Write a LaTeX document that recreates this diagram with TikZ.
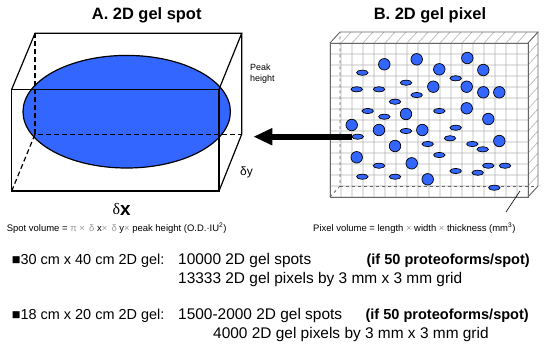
\documentclass[tikz,border=0pt]{standalone}
\usepackage{fontspec}
\setmainfont{Liberation Sans}
\newfontfamily\greekserif{Liberation Serif}
\usetikzlibrary{arrows.meta,positioning,shapes.geometric}
\definecolor{spotblue}{RGB}{51,102,255}

\begin{document}
\begin{tikzpicture}[x=1bp, y=-1bp,
      >=Latex,
      edge/.style={line width=1.2bp, draw=black},
      hidden/.style={edge, dash pattern=on 5bp off 3bp},
      gridline/.style={line width=0.6bp, draw=black!30},
      frame/.style={line width=0.8bp, draw=black!60},
      roundspot/.style={circle, draw=black, line width=0.7bp, fill=spotblue,
        minimum size=11.5bp, inner sep=0pt},
      flatspot/.style={ellipse, draw=black, line width=0.7bp, fill=spotblue,
        minimum width=11.5bp, minimum height=5.2bp, inner sep=0pt},
      heading/.style={font=\fontsize{16.5}{18}\selectfont\bfseries},
      caption/.style={font=\fontsize{9.5}{11}\selectfont, anchor=base west, inner sep=0pt},
      sizeline/.style={font=\fontsize{15.5}{17}\selectfont, anchor=base west, inner sep=0pt},
      gelline/.style={sizeline, font=\fontsize{14.5}{17}\selectfont},
      perspot/.style={font=\fontsize{14.6}{17}\selectfont\bfseries, anchor=base east, inner sep=0pt}
    ]
    \useasboundingbox (0,0) rectangle (550,345);

    % Spot box
    \node[heading] (titlea) at (146.7,15) {A. 2D gel spot};
    \filldraw[fill=spotblue, draw=black, line width=1.2bp]
      (126.7,111.7) ellipse [x radius=103.7, y radius=56.3];
    \draw[edge] (11.7,89.3) rectangle (219,191);
    \draw[edge] (11.7,89.3) -- (35,33.3) -- (241.7,33.3) -- (219,89.3);
    \draw[edge] (241.7,33.3) -- (241.7,134.3) -- (219,191);
    \draw[hidden] (35,33.3) -- (35,134.3) -- (241.7,134.3);
    \draw[hidden] (11.7,191) -- (35,134.3);
    \node[font=\fontsize{9}{10.5}\selectfont, align=left, anchor=north west,
      inner sep=0pt] (peak) at (250,64) {Peak\\height};
    \node[font=\fontsize{12}{14}\selectfont, anchor=base west, inner sep=0pt]
      (dy) at (240,175) {δy};
    \node[anchor=base, inner sep=0pt] (dx) at (121.7,214)
      {\fontsize{16}{18}\selectfont\greekserif δ\raisebox{-1.5bp}{\fontsize{19}{20}\selectfont\rmfamily\bfseries x}};
    \node[caption] (spotvol) at (6.7,231)
      {Spot volume = {\color{black!40}π ×\, δ }x{\color{black!40}×\, δ }y{\color{black!40}×}
       peak height (O.D.·IU\textsuperscript{2})};

    % Pixel grid
    \node[heading] (titleb) at (430,15) {B. 2D gel pixel};
    \foreach \i in {0,...,18}
      \draw[gridline] (330+11*\i,197) -- (330+11*\i,43) -- (340+11*\i,32);
    \foreach \j in {0,...,14}
      \draw[gridline] (330,43+11*\j) -- (528,43+11*\j) -- (538,32+11*\j);
    \draw[frame, dashed] (330,197) -- (340,186) -- (340,32);
    \draw[frame, dashed] (340,186) -- (538,186);
    \draw[frame] (330,43) rectangle (528,197);
    \draw[frame] (330,43) -- (340,32) -- (538,32) -- (528,43);
    \draw[frame] (538,32) -- (538,186) -- (528,197);

    \foreach \px/\py [count=\k] in {384.3/64.3, 416.7/59.3, 467.3/58, 439.3/69.3,
        483.3/70, 433.3/86.7, 466.7/86.7, 483.3/92.3, 499.3/92.3, 406/114,
        466.7/108.3, 488.3/119, 351.7/125, 379/130, 422.3/130, 395/146,
        499.3/141, 356.7/157.3, 411.7/163.3, 427.7/179.3}
      \node[roundspot] (c\k) at (\px,\py) {};
    \foreach \px/\py [count=\k] in {362.3/72.7, 356.7/89.3, 379/89.3, 406/82.7,
        416.7/95, 455.7/78.3, 395/101.7, 367.7/111, 384.3/116.7, 439.3/111,
        455.7/127.7, 406/131, 357.7/136.7, 450/138.3, 427.7/144, 472.3/144,
        482.7/149.3, 439.3/155, 379/165.7, 488.3/165.7, 505/165.7, 455.7/171,
        477.7/172.7, 362.3/176.7, 395/176.7, 494.3/187.7}
      \node[flatspot] (e\k) at (\px,\py) {};

    \coordinate (depth) at (520,191);
    \coordinate (thk) at (506,212);
    \draw[line width=0.6bp] (depth) -- (thk);
    \node[caption] (pixvol) at (313,231)
      {Pixel volume = length {\color{black!40}×} width {\color{black!40}×}
       thickness (mm\textsuperscript{3})};

    % Spot to pixel
    \coordinate (tip) at (253.3,136.7);
    \draw[line width=6bp, -{Triangle[length=19bp, width=16bp]}] (e13.west) -- (tip);

    % Gel sizes
    \node[gelline] (gela) at (11.7,264) {■30 cm x 40 cm 2D gel:};
    \node[sizeline] (spotsa) at (178,264) {10000 2D gel spots};
    \node[perspot] (ifa) at (530,264) {(if 50 proteoforms/spot)};
    \node[sizeline] (pixa) at (178,283.5) {13333 2D gel pixels by 3 mm x 3 mm grid};
    \node[gelline] (gelb) at (11.7,319.5) {■18 cm x 20 cm 2D gel:};
    \node[sizeline] (spotsb) at (178,319.5) {1500-2000 2D gel spots};
    \node[perspot] (ifb) at (529,319.5) {(if 50 proteoforms/spot)};
    \node[sizeline] (pixb) at (213,338) {4000 2D gel pixels by 3 mm x 3 mm grid};
  \end{tikzpicture}
\end{document}
